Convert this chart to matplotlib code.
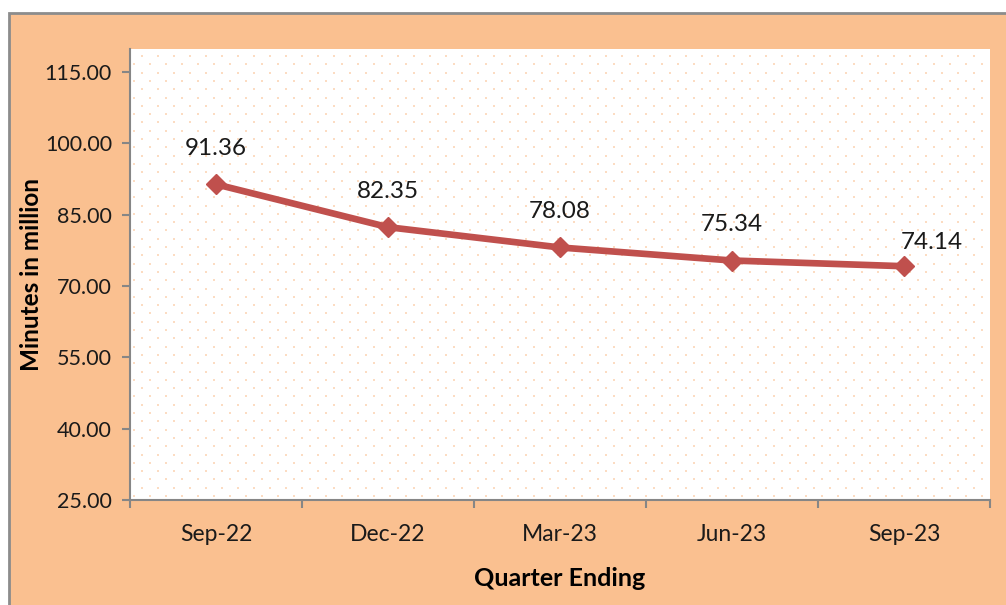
import matplotlib.pyplot as plt
import matplotlib.patches as mpatches
import numpy as np

# Data
quarters = ['Sep-22', 'Dec-22', 'Mar-23', 'Jun-23', 'Sep-23']
minutes = [91.36, 82.35, 78.08, 75.34, 74.14]
yticks = [25, 40, 55, 70, 85, 100, 115]

plt.rcParams['font.family'] = ['Lato', 'DejaVu Sans']

fig = plt.figure(figsize=(10.06, 6.05), dpi=100)
fig.patch.set_facecolor('white')

# Orange chart area with grey border
fig.patches.append(mpatches.Rectangle((9 / 1006, -0.01), 1.02, 1 - 13 / 605 + 0.01,
                                      transform=fig.transFigure, facecolor='#FAC090',
                                      edgecolor='#8C8C8C', linewidth=2, zorder=-10))

ax = fig.add_axes([130 / 1006, 1 - 500 / 605, 860 / 1006, 451 / 605])
ax.set_facecolor('white')

# faint dotted pattern in the plot area
W, H = 860, 451
pts_x, pts_y = [], []
for i, yy in enumerate(np.arange(4, H, 8.3)):
    off = 4 if i % 2 == 0 else 12
    for xx in np.arange(off, W, 16):
        pts_x.append(xx / W)
        pts_y.append(yy / H)
ax.scatter(pts_x, pts_y, s=2.2, marker='s', color='#FCDCC2', linewidths=0,
           transform=ax.transAxes, zorder=0)

x = np.arange(len(quarters))
ax.plot(x, minutes, color='#C0504D', linewidth=4.8, marker='D', markersize=10,
        markerfacecolor='#C0504D', markeredgecolor='#C0504D', zorder=3)

for i, v in enumerate(minutes):
    if i == len(minutes) - 1:
        ax.annotate(f'{v:.2f}', (i, v), xytext=(20, 17), textcoords='offset points',
                    ha='center', va='center', fontsize=17.5, color='#1a1a1a')
    else:
        ax.annotate(f'{v:.2f}', (i, v), xytext=(0, 26), textcoords='offset points',
                    ha='center', va='center', fontsize=17.5, color='#1a1a1a')

ax.set_xlim(-0.5, len(quarters) - 0.5)
ax.set_ylim(25, 119.8)
ax.set_yticks(yticks)
ax.set_yticklabels([f'{t:.2f}' for t in yticks])
ax.set_xticks(x)
ax.set_xticklabels(quarters)
ax.set_xticks(np.arange(-0.5, len(quarters)), minor=True)
ax.tick_params(axis='x', which='major', length=0, pad=17, labelsize=16.5, colors='#1a1a1a')
ax.tick_params(axis='x', which='minor', length=6, width=1.5, color='#868686', direction='out')
ax.tick_params(axis='y', length=6, width=1.5, color='#868686', labelsize=15.5,
               labelcolor='#1a1a1a', pad=7)

for s in ['top', 'right']:
    ax.spines[s].set_visible(False)
for s in ['left', 'bottom']:
    ax.spines[s].set_color('#868686')
    ax.spines[s].set_linewidth(1.5)

ax.set_ylabel('Minutes in million', fontsize=17.5, fontweight='bold', va='center')
ax.yaxis.set_label_coords(-0.114, 0.5)
ax.set_xlabel('Quarter Ending', fontsize=18, fontweight='bold', labelpad=16)

plt.savefig('out.png', dpi=100, facecolor=fig.get_facecolor())
